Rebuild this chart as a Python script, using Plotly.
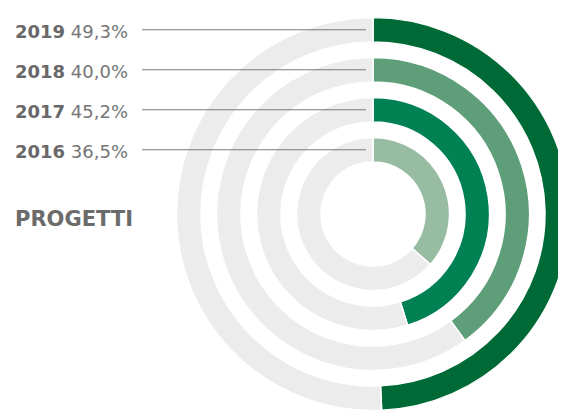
import plotly.graph_objects as go

years = ["2019", "2018", "2017", "2016"]
values = [49.3, 40.0, 45.2, 36.5]
value_labels = ["49,3%", "40,0%", "45,2%", "36,5%"]
colors = ["#006a37", "#5e9e78", "#008153", "#97bca2"]
rest_color = "#ececec"
title_text = "PROGETTI"

W, H = 566, 412
OFF = 8  # page body margin shifts the figure by this many px

# geometry in window pixels
cx, cy = 373 - OFF, 214 - OFF   # center of the rings
r_max = 197                     # outer radius (1 data unit = 1 px)
thick = 24.5
inner = [172, 132, 92, 52]      # inner radius of each ring


def px_x(x):
    return (x - OFF) / W


def px_y(y):
    return 1 - (y - OFF) / H


fig = go.Figure()
for yr, v, col, base in zip(years, values, colors, inner):
    ang = v * 360 / 100
    # coloured part, from the top going clockwise
    fig.add_trace(go.Barpolar(
        r=[thick], base=[base], theta=[ang / 2], width=[ang],
        marker=dict(color=col, line=dict(color="white", width=1.5)),
        hoverinfo="skip", showlegend=False))
    # grey remainder
    rest = 360 - ang
    fig.add_trace(go.Barpolar(
        r=[thick], base=[base], theta=[ang + rest / 2], width=[rest],
        marker=dict(color=rest_color, line=dict(color="white", width=1.5)),
        hoverinfo="skip", showlegend=False))

# leader lines and labels
shapes = []
annotations = []
for yr, lab, base in zip(years, value_labels, inner):
    y_win = (cy + OFF) - (base + thick / 2)
    shapes.append(dict(type="line", xref="paper", yref="paper",
                       x0=px_x(142), x1=px_x(366), y0=px_y(y_win), y1=px_y(y_win),
                       line=dict(color="#7a7a7a", width=1)))
    annotations.append(dict(xref="paper", yref="paper", x=px_x(13), y=px_y(y_win + 1.5),
                            xanchor="left", yanchor="middle", showarrow=False,
                            text=f"<b>{yr}</b> <span style='color:#767676'>{lab}</span>",
                            font=dict(size=18, color="#686868")))

annotations.append(dict(xref="paper", yref="paper", x=px_x(13), y=px_y(219),
                        xanchor="left", yanchor="middle", showarrow=False,
                        text=f"<b>{title_text}</b>",
                        font=dict(size=21, color="#6b6b6b")))

fig.update_layout(
    width=W, height=H,
    margin=dict(l=0, r=0, t=0, b=0),
    paper_bgcolor="white",
    font=dict(family="DejaVu Sans"),
    shapes=shapes,
    annotations=annotations,
    polar=dict(
        domain=dict(x=[(cx - r_max) / W, (cx + r_max) / W],
                    y=[(H - cy - r_max) / H, (H - cy + r_max) / H]),
        bgcolor="white",
        barmode="overlay",
        hole=0,
        radialaxis=dict(range=[0, r_max], visible=False, showgrid=False),
        angularaxis=dict(visible=False, rotation=90, direction="clockwise",
                         showgrid=False),
    ),
)

fig.write_html("out.html")
